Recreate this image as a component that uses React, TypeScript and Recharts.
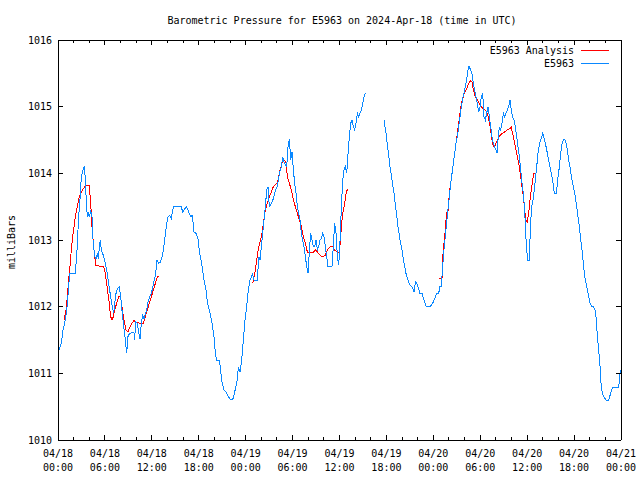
import { ComposedChart, Line, XAxis, YAxis } from 'recharts';

// hours since 04/18 00:00 UTC
const obsHours = [
  0, 0.43, 0.64, 0.94, 1.19, 1.49, 2.22, 2.43, 2.64, 2.81, 2.98, 3.2, 3.37, 3.5, 3.67, 3.79, 3.92, 4.05, 4.18, 4.35,
  4.48, 4.69, 4.86, 5.03, 5.16, 5.29, 5.41, 5.54, 5.71, 5.97, 6.22, 6.48, 6.73, 6.95, 7.12, 7.25, 7.42, 7.59, 7.84, 8.01,
  8.18, 8.4, 8.61, 8.78, 8.95, 9.16, 9.46, 9.72, 9.8, 9.93, 10.14, 10.3, 10.49, 10.66, 10.83, 11.0, 11.17, 11.34, 11.51, 11.72,
  11.94, 12.23, 12.49, 12.66, 12.87, 13.09, 13.3, 13.47, 13.64, 13.9, 14.07, 14.28, 14.49, 14.75, 15.13, 15.77, 15.94, 16.2, 16.45, 16.71,
  16.97, 17.18, 17.39, 17.65, 17.9, 18.12, 18.41, 18.67, 18.93, 19.1, 19.44, 19.7, 19.95, 20.12, 20.29, 20.63, 20.8, 20.93, 21.2, 21.5,
  21.8, 22.1, 22.4, 22.65, 22.93, 23.06, 23.27, 23.49, 23.7, 23.91, 24.13, 24.34, 24.55, 24.76, 24.86, 25.06, 25.5, 25.67, 25.84, 26.01,
  26.26, 26.52, 26.69, 26.86, 27.03, 27.29, 27.54, 27.8, 28.05, 28.31, 28.57, 28.74, 28.91, 29.08, 29.25, 29.42, 29.59, 29.76, 29.93, 30.1,
  30.27, 30.44, 30.61, 30.78, 30.95, 31.12, 31.29, 31.46, 31.63, 31.81, 31.98, 32.15, 32.32, 32.49, 32.66, 32.83, 33.0, 33.17, 33.34, 33.51,
  33.68, 33.85, 34.02, 34.19, 34.36, 34.53, 35.04, 35.21, 35.38, 35.56, 35.73, 35.9, 36.07, 36.24, 36.41, 36.58, 36.75, 36.92, 37.09, 37.26,
  37.43, 37.6, 37.77, 37.94, 38.11, 38.28, 38.45, 38.62, 38.8, 38.97, 39.14, 39.31, 40.5,
  41.69, 41.95, 42.2, 42.46, 42.71, 42.97, 43.23, 43.48, 43.74, 43.99, 44.25, 44.5, 44.76, 45.02, 45.27, 45.53, 45.7, 45.87, 46.12, 46.29,
  46.55, 46.81, 47.06, 47.66, 47.92, 48.17, 48.43, 48.68, 48.85, 49.02, 49.19, 49.36, 49.53, 49.7, 49.87, 50.05, 50.22, 50.39, 50.56, 50.73,
  50.9, 51.07, 51.24, 51.41, 51.58, 51.75, 51.92, 52.09, 52.26, 52.43, 52.56, 52.77, 52.94, 53.11, 53.29, 53.46, 53.63, 53.8, 53.97, 54.14,
  54.31, 54.48, 54.65, 54.82, 54.99, 55.16, 55.33, 55.5, 55.67, 55.84, 56.01, 56.14, 56.27, 56.44, 56.61, 56.78, 56.95, 57.12, 57.29, 57.46,
  57.63, 57.8, 57.97, 58.14, 58.32, 58.49, 58.66, 58.83, 59.0, 59.17, 59.34, 59.51, 59.68, 59.81, 59.94, 60.06, 60.28, 60.4, 60.57, 60.74,
  60.91, 61.08, 61.26, 61.43, 61.6, 61.99, 62.24, 62.5, 62.75, 63.01, 63.26, 63.48, 63.73, 63.95, 64.12, 64.29, 64.46, 64.63, 64.8, 64.97,
  65.14, 65.31, 65.48, 65.65, 65.82, 65.99, 66.16, 66.33, 66.5, 66.67, 66.85, 67.02, 67.19, 67.36, 67.53, 67.7, 67.87, 68.04, 68.25, 68.47,
  68.68, 68.85, 68.98, 69.15, 69.32, 69.45, 69.62, 69.83, 70.09, 70.43, 70.68, 70.94, 71.71, 71.88, 72.0,
];
const obsPressure: (number | null)[] = [
  1011.3, 1011.45, 1011.65, 1011.8, 1012.03, 1012.5, 1012.5, 1012.85, 1013.35, 1013.6, 1013.95, 1014.05, 1014.11, 1013.9, 1013.45, 1013.35, 1013.4, 1013.35, 1013.45, 1013.35,
  1013.0, 1012.75, 1012.72, 1012.8, 1012.72, 1012.9, 1013.0, 1012.85, 1012.8, 1012.7, 1012.55, 1012.35, 1012.15, 1012.0, 1011.9, 1012.05, 1012.2, 1012.27, 1012.3, 1012.15,
  1011.95, 1011.7, 1011.5, 1011.3, 1011.55, 1011.6, 1011.61, 1011.61, 1011.5, 1011.77, 1011.75, 1011.62, 1011.52, 1011.75, 1011.87, 1011.82, 1011.9, 1011.95, 1012.07, 1012.15,
  1012.2, 1012.35, 1012.5, 1012.7, 1012.65, 1012.67, 1012.75, 1012.85, 1013.0, 1013.25, 1013.35, 1013.37, 1013.32, 1013.5, 1013.5, 1013.5, 1013.42, 1013.47, 1013.5, 1013.42,
  1013.35, 1013.37, 1013.12, 1013.1, 1013.02, 1012.8, 1012.62, 1012.4, 1012.25, 1012.07, 1011.9, 1011.75, 1011.55, 1011.3, 1011.2, 1011.2, 1011.05, 1010.9, 1010.75, 1010.72,
  1010.65, 1010.6, 1010.62, 1010.75, 1010.9, 1011.1, 1011.02, 1011.2, 1011.5, 1011.8, 1012.0, 1012.25, 1012.4, 1012.45, 1012.5, 1012.4, 1012.4, 1012.75, 1012.7, 1012.9,
  1013.2, 1013.5, 1013.75, 1013.8, 1013.5, 1013.55, 1013.62, 1013.75, 1013.8, 1014.0, 1014.1, 1014.25, 1014.17, 1014.12, 1014.1, 1014.4, 1014.51, 1014.2, 1014.32, 1014.05,
  1013.85, 1013.7, 1013.5, 1013.4, 1013.3, 1013.1, 1013.0, 1012.9, 1012.75, 1012.6, 1012.5, 1012.85, 1013.1, 1013.0, 1012.9, 1012.9, 1013.0, 1012.85, 1012.9, 1013.0,
  1013.02, 1013.1, 1013.05, 1012.9, 1012.75, 1012.6, 1012.6, 1012.9, 1013.25, 1013.1, 1012.75, 1012.62, 1013.0, 1013.5, 1013.9, 1014.05, 1014.1, 1014.0, 1014.3, 1014.55,
  1014.75, 1014.8, 1014.7, 1014.65, 1014.75, 1014.9, 1014.85, 1014.9, 1014.95, 1015.05, 1015.15, 1015.21, null,
  1014.8, 1014.6, 1014.35, 1014.1, 1013.9, 1013.7, 1013.45, 1013.2, 1013.0, 1012.85, 1012.65, 1012.5, 1012.4, 1012.32, 1012.3, 1012.22, 1012.37, 1012.35, 1012.27, 1012.2,
  1012.2, 1012.1, 1012.01, 1012.01, 1012.05, 1012.12, 1012.2, 1012.2, 1012.3, 1012.3, 1012.6, 1012.85, 1013.05, 1013.25, 1013.45, 1013.65, 1013.85, 1014.0, 1014.15, 1014.3,
  1014.45, 1014.55, 1014.7, 1014.85, 1015.0, 1015.12, 1015.2, 1015.3, 1015.4, 1015.55, 1015.61, 1015.55, 1015.5, 1015.35, 1015.25, 1015.15, 1015.05, 1014.92, 1015.0, 1015.15,
  1015.2, 1014.85, 1014.8, 1014.9, 1015.0, 1014.85, 1014.7, 1014.55, 1014.45, 1014.4, 1014.35, 1014.3, 1014.5, 1014.7, 1014.65, 1014.75, 1014.9, 1014.85, 1014.9, 1014.95,
  1015.0, 1015.1, 1014.95, 1014.85, 1014.8, 1014.7, 1014.55, 1014.4, 1014.25, 1014.05, 1013.85, 1013.7, 1013.45, 1013.1, 1012.85, 1012.7, 1012.7, 1013.15, 1013.5, 1013.6,
  1013.75, 1013.95, 1014.15, 1014.35, 1014.45, 1014.6, 1014.5, 1014.35, 1014.2, 1014.05, 1013.9, 1013.7, 1013.7, 1013.95, 1014.1, 1014.3, 1014.45, 1014.5, 1014.51, 1014.45,
  1014.35, 1014.2, 1014.1, 1013.95, 1013.85, 1013.75, 1013.65, 1013.5, 1013.35, 1013.2, 1013.0, 1012.85, 1012.65, 1012.45, 1012.35, 1012.25, 1012.15, 1012.05, 1012.0, 1012.0,
  1011.95, 1011.8, 1011.55, 1011.35, 1011.1, 1010.85, 1010.7, 1010.64, 1010.6, 1010.6, 1010.7, 1010.79, 1010.79, 1011.0, 1011.05,
];

const anaHours = [
  0.77, 1.02, 1.19, 1.36, 1.53, 1.7, 1.88, 2.05, 2.22, 2.47, 2.73, 2.9, 3.15, 3.41, 3.67, 4.0, 4.18, 4.35, 4.52, 4.69,
  4.86, 5.29, 5.8, 5.97, 6.22, 6.39, 6.56, 6.73, 6.91, 7.08, 7.25, 7.5, 7.76, 8.01, 8.18, 8.44, 8.7, 8.95, 9.21, 9.46,
  9.72, 9.97, 10.23, 10.57, 10.91, 11.17, 11.42, 11.68, 11.94, 12.19, 12.45, 12.7, 12.96, 18,
  24.9, 25.24, 25.41, 25.67, 25.92, 26.09, 26.26, 26.52, 26.77, 27.03, 27.29, 27.54, 27.88, 28.05, 28.22, 28.4, 28.65, 28.82, 28.99, 29.16,
  29.33, 29.59, 29.84, 30.1, 30.36, 30.61, 30.87, 31.12, 31.38, 31.63, 31.89, 32.23, 32.66, 32.92, 33.17, 33.51, 33.85, 34.19, 34.45, 34.79,
  35.13, 35.38, 35.73, 35.99, 36.15, 36.32, 36.49, 36.67, 36.84, 37.01, 43,
  48.77, 49.11, 49.19, 49.36, 49.53, 49.7, 49.87, 50.05, 50.22, 50.39, 50.56, 50.73, 50.9, 51.07, 51.24, 51.41, 51.58, 51.75, 52.01, 52.26,
  52.52, 52.77, 52.94, 53.11, 53.37, 53.63, 53.89, 54.14, 54.4, 54.65, 54.91, 55.16, 55.33, 55.5, 55.67, 55.84, 56.01, 56.27, 56.53, 56.78,
  57.12, 57.46, 57.8, 57.97, 58.14, 58.32, 58.49, 58.66, 58.83, 59.0, 59.17, 59.34, 59.51, 59.68, 59.85, 60.02, 60.19, 60.36, 60.53, 60.7,
  60.87, 61.12,
];
const anaPressure: (number | null)[] = [
  1011.8, 1011.95, 1012.15, 1012.4, 1012.6, 1012.85, 1013.05, 1013.2, 1013.35, 1013.5, 1013.65, 1013.7, 1013.75, 1013.8, 1013.82, 1013.82, 1013.55, 1013.2, 1012.95, 1012.75,
  1012.62, 1012.61, 1012.6, 1012.55, 1012.35, 1012.2, 1012.05, 1011.85, 1011.8, 1011.85, 1011.95, 1012.05, 1012.15, 1012.15, 1012.0, 1011.8, 1011.65, 1011.62, 1011.7, 1011.75,
  1011.79, 1011.77, 1011.76, 1011.75, 1011.75, 1011.85, 1011.95, 1012.05, 1012.15, 1012.25, 1012.35, 1012.45, 1012.46, null,
  1012.35, 1012.55, 1012.7, 1012.9, 1013.0, 1013.1, 1013.25, 1013.45, 1013.55, 1013.65, 1013.72, 1013.8, 1013.84, 1013.85, 1013.95, 1014.05, 1014.15, 1014.2, 1014.2, 1014.15,
  1013.95, 1013.85, 1013.75, 1013.6, 1013.5, 1013.4, 1013.3, 1013.2, 1013.05, 1012.95, 1012.82, 1012.82, 1012.82, 1012.85, 1012.82, 1012.77, 1012.75, 1012.77, 1012.85, 1012.9,
  1012.9, 1012.85, 1012.82, 1012.82, 1013.05, 1013.3, 1013.45, 1013.55, 1013.7, 1013.76, null,
  1012.42, 1012.42, 1012.72, 1012.95, 1013.15, 1013.42, 1013.42, 1013.7, 1013.85, 1014.0, 1014.15, 1014.3, 1014.45, 1014.6, 1014.75, 1014.9, 1015.05, 1015.12, 1015.22, 1015.27,
  1015.35, 1015.39, 1015.37, 1015.25, 1015.15, 1015.1, 1015.05, 1015.0, 1014.97, 1014.95, 1014.9, 1014.77, 1014.65, 1014.5, 1014.4, 1014.39, 1014.45, 1014.52, 1014.57, 1014.6,
  1014.62, 1014.65, 1014.67, 1014.69, 1014.6, 1014.5, 1014.4, 1014.3, 1014.2, 1014.1, 1013.95, 1013.8, 1013.65, 1013.45, 1013.3, 1013.27, 1013.4, 1013.6, 1013.75, 1013.9,
  1014.0, 1014.0,
];

const xTicks = [0, 2, 4, 6, 8, 10, 12, 14, 16, 18, 20, 22, 24, 26, 28, 30, 32, 34, 36, 38, 40, 42, 44, 46, 48, 50, 52, 54, 56, 58, 60, 62, 64, 66, 68, 70, 72];
const majorTicks = [0, 6, 12, 18, 24, 30, 36, 42, 48, 54, 60, 66, 72];
const tickDates = ['04/18', '04/18', '04/18', '04/18', '04/19', '04/19', '04/19', '04/19', '04/20', '04/20', '04/20', '04/20', '04/21'];
const tickTimes = ['00:00', '06:00', '12:00', '18:00', '00:00', '06:00', '12:00', '18:00', '00:00', '06:00', '12:00', '18:00', '00:00'];
const yTicks = [1010, 1011, 1012, 1013, 1014, 1015, 1016];
const seriesNames = ['E5963 Analysis', 'E5963'];

const obsData = obsHours.map((h, i) => ({ h, p: obsPressure[i] }));
const anaData = anaHours.map((h, i) => ({ h, p: anaPressure[i] }));

const FONT = '"DejaVu Sans Mono", "Liberation Mono", monospace';
const BLUE = '#0a88ff';
const RED = '#ff0000';
const seriesColors = [RED, BLUE];

function BottomTick({ x, y, payload }: any) {
  const idx = majorTicks.indexOf(payload.value);
  const len = idx >= 0 ? 5 : 3;
  return (
    <g>
      <line x1={x} x2={x} y1={y} y2={y - len} stroke="#000" shapeRendering="crispEdges" />
      {idx >= 0 && (
        <text x={x} textAnchor="middle" fontSize={10} fontFamily={FONT} fill="#000">
          <tspan x={x} y={y + 17}>{tickDates[idx]}</tspan>
          <tspan x={x} y={y + 31}>{tickTimes[idx]}</tspan>
        </text>
      )}
    </g>
  );
}

function TopTick({ x, y, payload }: any) {
  const len = majorTicks.includes(payload.value) ? 5 : 3;
  return <line x1={x} x2={x} y1={y} y2={y + len} stroke="#000" shapeRendering="crispEdges" />;
}

function LeftTick({ x, y, payload }: any) {
  return (
    <g>
      <line x1={x} x2={x + 5} y1={y} y2={y} stroke="#000" shapeRendering="crispEdges" />
      <text x={x - 6} y={y + 3.5} textAnchor="end" fontSize={10} fontFamily={FONT} fill="#000">{payload.value}</text>
    </g>
  );
}

function RightTick({ x, y }: any) {
  return <line x1={x} x2={x - 5} y1={y} y2={y} stroke="#000" shapeRendering="crispEdges" />;
}

const axisLine = { stroke: '#000', shapeRendering: 'crispEdges' };

export default function App() {
  return (
    <div style={{ position: 'absolute', left: 0, top: 0, width: 640, height: 480, background: '#fff' }}>
      <ComposedChart width={640} height={480} margin={{ top: 0, right: 0, bottom: 0, left: 0 }}>
        <XAxis xAxisId="bottom" type="number" dataKey="h" domain={[0, 72]} ticks={xTicks} interval={0}
          height={40} tickSize={0} tickMargin={0} tickLine={false} axisLine={axisLine} tick={<BottomTick />} allowDataOverflow />
        <XAxis xAxisId="top" orientation="top" type="number" dataKey="h" domain={[0, 72]} ticks={xTicks} interval={0}
          height={40} tickSize={0} tickMargin={0} tickLine={false} axisLine={axisLine} tick={<TopTick />} allowDataOverflow />
        <YAxis yAxisId="left" type="number" domain={[1010, 1016]} ticks={yTicks} interval={0}
          width={58} tickSize={0} tickMargin={0} tickLine={false} axisLine={axisLine} tick={<LeftTick />} allowDataOverflow />
        <YAxis yAxisId="right" orientation="right" type="number" domain={[1010, 1016]} ticks={yTicks} interval={0}
          width={19} tickSize={0} tickMargin={0} tickLine={false} axisLine={axisLine} tick={<RightTick />} allowDataOverflow />
        <Line xAxisId="bottom" yAxisId="left" data={anaData} dataKey="p" name={seriesNames[0]} type="linear"
          stroke={RED} strokeWidth={1} shapeRendering="crispEdges" dot={false} activeDot={false} isAnimationActive={false} />
        <Line xAxisId="bottom" yAxisId="left" data={obsData} dataKey="p" name={seriesNames[1]} type="linear"
          stroke={BLUE} strokeWidth={1} shapeRendering="crispEdges" dot={false} activeDot={false} isAnimationActive={false} />
      </ComposedChart>
      <svg width={640} height={480} style={{ position: 'absolute', left: 0, top: 0, pointerEvents: 'none' }}>
        <text x={342} y={24} textAnchor="middle" fontSize={10} fontFamily={FONT} fill="#000">
          Barometric Pressure for E5963 on 2024-Apr-18 (time in UTC)
        </text>
        <text x={15} y={242} textAnchor="middle" fontSize={10} fontFamily={FONT} fill="#000" transform="rotate(-90 15 242)">
          milliBars
        </text>
        {seriesNames.map((name, i) => (
          <g key={name}>
            <text x={574} y={54 + i * 13} textAnchor="end" fontSize={10} fontFamily={FONT} fill="#000">{name}</text>
            <line x1={581} x2={609} y1={50.5 + i * 13} y2={50.5 + i * 13} stroke={seriesColors[i]} />
          </g>
        ))}
      </svg>
    </div>
  );
}
